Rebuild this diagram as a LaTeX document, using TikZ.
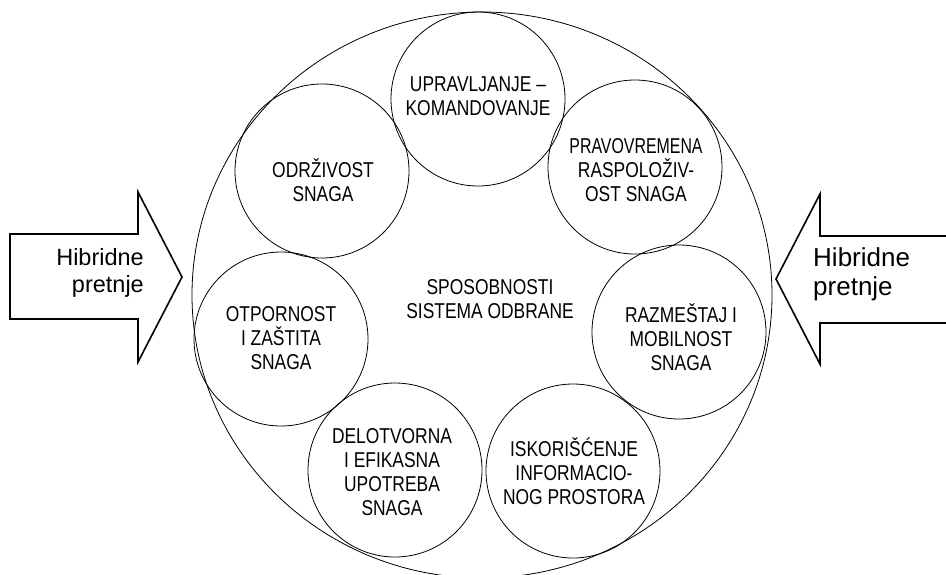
\documentclass[tikz,border=0pt]{standalone}
\usepackage{fontspec}
\setmainfont{Liberation Sans}
\newfontfamily\cfa[FakeStretch=0.81,Ligatures=TeX]{Liberation Sans}
\newfontfamily\cfb[FakeStretch=0.74,Ligatures=TeX]{Liberation Sans}
\usetikzlibrary{shapes.geometric}
\begin{document}
\begin{tikzpicture}[x=1pt,y=-1pt,
  bub/.style={circle,draw,line width=0.8pt,minimum size=174pt,inner sep=0pt},
  ctext/.style={align=center,font=\cfa\fontsize{21.5}{24}\selectfont,inner sep=0pt},
  arrowshape/.style={draw,line width=1.6pt,line join=miter},
  htextl/.style={font=\fontsize{23.5}{27}\selectfont,inner sep=0pt},
  htextr/.style={font=\fontsize{26}{29}\selectfont,inner sep=0pt}]
\clip (0,0) rectangle (946,574);
\fill[white] (0,0) rectangle (946,574);
% big ellipse
\node[draw,ellipse,line width=0.8pt,minimum width=580pt,minimum height=566pt,inner sep=0pt] (big) at (482,295) {};
% small circles
\node[bub] (c1) at (478,99) {};
\node[bub] (c2) at (635,167) {};
\node[bub] (c3) at (679,332) {};
\node[bub] (c4) at (573,471) {};
\node[bub] (c5) at (395,470) {};
\node[bub] (c6) at (281,339) {};
\node[bub] (c7) at (322,171) {};
% texts
\node[ctext] (t1) at (478,96) {UPRAVLJANJE –\\KOMANDOVANJE};
\node[ctext] (t2) at (636,170) {{\cfb PRAVOVREMENA}\\RASPOLOŽIV-\\OST SNAGA};
\node[ctext] (t3) at (681,337) {RAZMEŠTAJ I\\MOBILNOST\\SNAGA};
\node[ctext] (t4) at (574,471) {ISKORIŠĆENJE\\INFORMACIO-\\NOG PROSTORA};
\node[ctext] (t5) at (392,472) {DELOTVORNA\\I EFIKASNA\\UPOTREBA\\SNAGA};
\node[ctext] (t6) at (281,338) {OTPORNOST\\I ZAŠTITA\\SNAGA};
\node[ctext] (t7) at (323,180) {ODRŽIVOST\\SNAGA};
\node[ctext] (t0) at (490,299) {SPOSOBNOSTI\\SISTEMA ODBRANE};
% arrows
\draw[arrowshape] (10,234) -- (138,234) -- (138,192) -- (182,277) -- (138,362) -- (138,319) -- (10,319) -- cycle;
\draw[arrowshape] (950,236) -- (820,236) -- (820,194) -- (776,279) -- (820,364) -- (820,323) -- (950,323);
\node[htextl,anchor=base east] (hl1) at (144,265) {Hibridne};
\node[htextl,anchor=base east] (hl2) at (144,292) {pretnje};
\node[htextr,anchor=base west] (hr1) at (813,266) {Hibridne};
\node[htextr,anchor=base west] (hr2) at (813,295) {pretnje};
\end{tikzpicture}
\end{document}
